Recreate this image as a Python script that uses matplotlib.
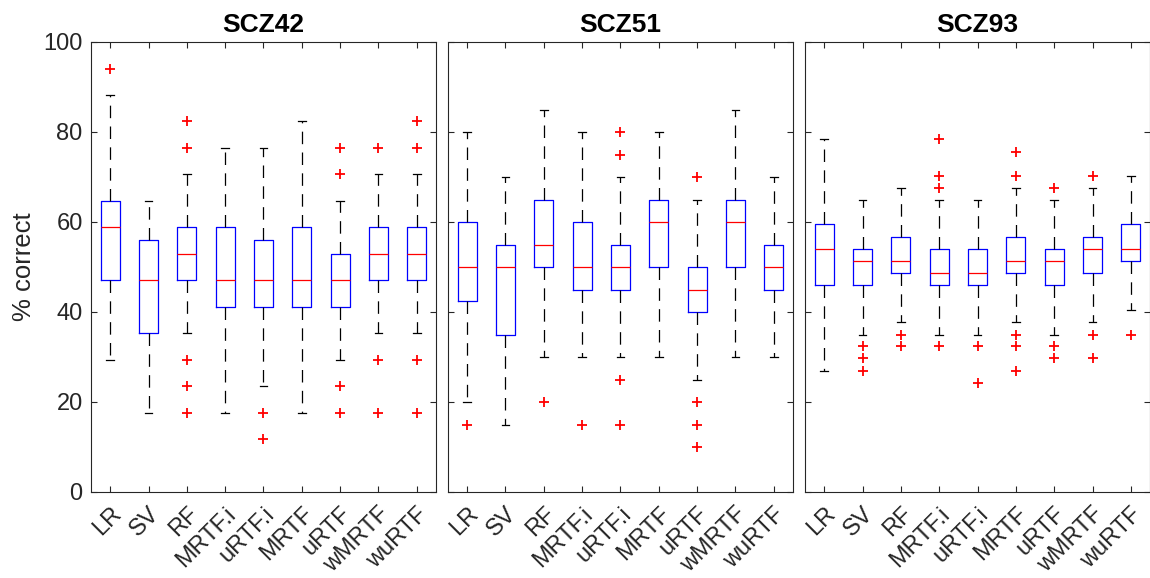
import matplotlib
matplotlib.use("Agg")
import matplotlib.pyplot as plt

plt.rcParams['font.family'] = ['Liberation Sans', 'DejaVu Sans']
plt.rcParams['lines.scale_dashes'] = False

methods = ["LR", "SV", "RF", "MRTF.i", "uRTF.i", "MRTF", "uRTF", "wMRTF", "wuRTF"]
titles = ["SCZ42", "SCZ51", "SCZ93"]

# --- SCZ42 ---
scz42_q1 = [47.1, 35.3, 47.1, 41.2, 41.2, 41.2, 41.2, 47.1, 47.1]
scz42_med = [58.8, 47.1, 52.9, 47.1, 47.1, 47.1, 47.1, 52.9, 52.9]
scz42_q3 = [64.7, 55.9, 58.8, 58.8, 55.9, 58.8, 52.9, 58.8, 58.8]
scz42_lo = [29.4, 17.6, 35.3, 17.6, 23.5, 17.6, 29.4, 35.3, 35.3]
scz42_hi = [88.2, 64.7, 70.6, 76.5, 76.5, 82.4, 64.7, 70.6, 70.6]
scz42_fliers = [
    [94.1],
    [],
    [82.4, 76.5, 29.4, 23.5, 17.6],
    [],
    [17.6, 11.8],
    [],
    [76.5, 70.6, 23.5, 17.6],
    [76.5, 29.4, 17.6],
    [82.4, 76.5, 29.4, 17.6],
]

# --- SCZ51 ---
scz51_q1 = [42.5, 35, 50, 45, 45, 50, 40, 50, 45]
scz51_med = [50, 50, 55, 50, 50, 60, 45, 60, 50]
scz51_q3 = [60, 55, 65, 60, 55, 65, 50, 65, 55]
scz51_lo = [20, 15, 30, 30, 30, 30, 25, 30, 30]
scz51_hi = [80, 70, 85, 80, 70, 80, 65, 85, 70]
scz51_fliers = [
    [15],
    [],
    [20],
    [15],
    [80, 75, 25, 15],
    [],
    [70, 20, 15, 10],
    [],
    [],
]

# --- SCZ93 ---
scz93_q1 = [45.9, 45.9, 48.6, 45.9, 45.9, 48.6, 45.9, 48.6, 51.3]
scz93_med = [54.0, 51.3, 51.3, 48.6, 48.6, 51.3, 51.3, 54.0, 54.0]
scz93_q3 = [59.5, 54.0, 56.7, 54.0, 54.0, 56.7, 54.0, 56.7, 59.5]
scz93_lo = [27.0, 35.0, 37.8, 35.0, 35.0, 37.8, 35.0, 37.8, 40.5]
scz93_hi = [78.4, 64.8, 67.6, 64.8, 64.8, 67.6, 64.8, 67.6, 70.2]
scz93_fliers = [
    [],
    [32.4, 29.7, 27.0],
    [35.0, 32.4],
    [78.4, 70.2, 67.6, 32.4],
    [32.4, 24.3],
    [75.6, 70.2, 35.0, 32.4, 27.0],
    [67.6, 32.4, 29.7],
    [70.2, 35.0, 29.7],
    [35.0],
]

datasets = [
    (scz42_q1, scz42_med, scz42_q3, scz42_lo, scz42_hi, scz42_fliers),
    (scz51_q1, scz51_med, scz51_q3, scz51_lo, scz51_hi, scz51_fliers),
    (scz93_q1, scz93_med, scz93_q3, scz93_lo, scz93_hi, scz93_fliers),
]

W, H = 1150, 578
fig = plt.figure(figsize=(W / 100, H / 100), dpi=100)
lefts = [91, 448, 805]
pw = 345
top, bottom = 42, 492

axcol = '#262626'
for k, (q1, med, q3, lo, hi, fl) in enumerate(datasets):
    ax = fig.add_axes([lefts[k] / W, 1 - bottom / H, pw / W, (bottom - top) / H])
    stats = []
    for i in range(len(methods)):
        stats.append(dict(med=med[i], q1=q1[i], q3=q3[i], whislo=lo[i],
                          whishi=hi[i], fliers=fl[i], label=methods[i]))
    ax.bxp(stats, positions=range(1, len(methods) + 1), widths=0.5,
           capwidths=0.2, showfliers=True,
           boxprops=dict(color='#0000ff', linewidth=0.9),
           medianprops=dict(color='#ff0000', linewidth=0.9),
           whiskerprops=dict(color='black', linewidth=0.9, linestyle=(0, (9, 6))),
           capprops=dict(color='black', linewidth=0.9),
           flierprops=dict(marker='+', markeredgecolor='#ff0000',
                           markersize=7, markeredgewidth=1.3, linestyle='none'))
    ax.set_xlim(0.5, len(methods) + 0.5)
    ax.set_ylim(0, 100)
    ax.set_xticks(range(1, len(methods) + 1))
    ax.set_xticklabels(methods, rotation=45, ha='right', va='top',
                       rotation_mode='anchor', fontsize=17, color=axcol)
    ax.set_yticks([0, 20, 40, 60, 80, 100])
    ax.tick_params(direction='in', top=True, right=True, length=4,
                   width=0.8, colors=axcol, labelsize=17, pad=6)
    ax.tick_params(axis='x', pad=8)
    for s in ax.spines.values():
        s.set_color(axcol)
        s.set_linewidth(0.8)
    if k == 0:
        ax.set_ylabel('% correct', fontsize=18.5, color=axcol, labelpad=5)
    else:
        ax.set_yticklabels([])
    ax.set_title(titles[k], fontsize=19, fontweight='bold', pad=7)

fig.savefig('out.png', dpi=100)
